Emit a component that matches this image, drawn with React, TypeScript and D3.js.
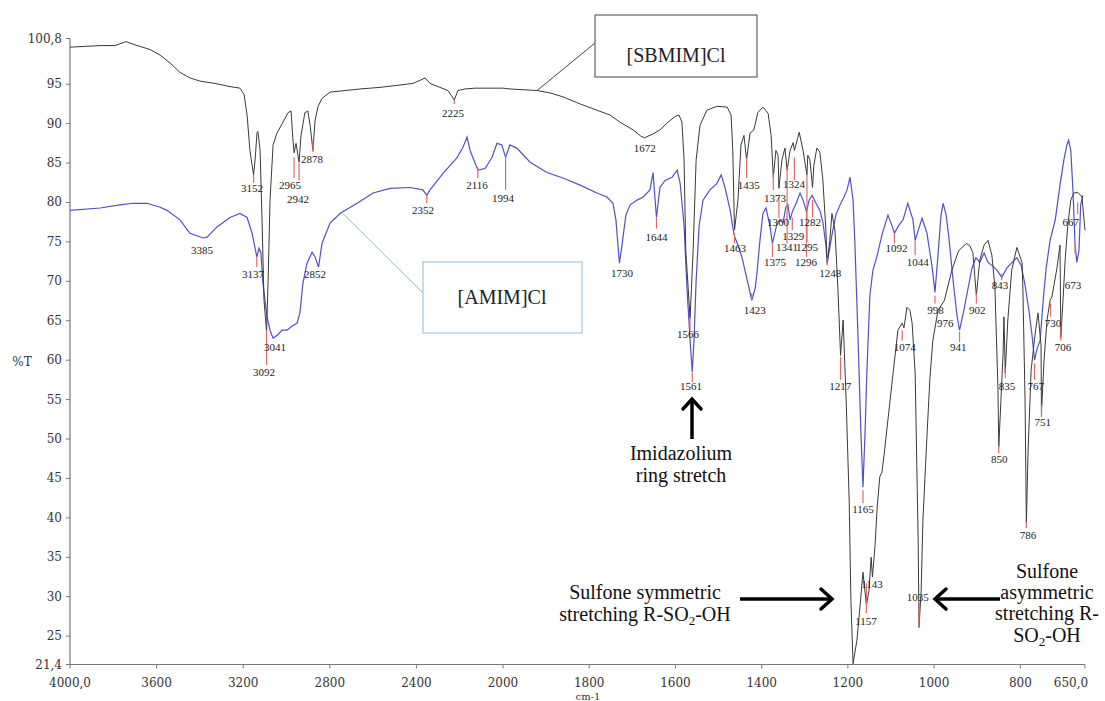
import React from 'react';
import * as d3 from 'd3';

const xTicks = [4000, 3600, 3200, 2800, 2400, 2000, 1800, 1600, 1400, 1200, 1000, 800, 650];
const xTickLabels = ['4000,0', '3600', '3200', '2800', '2400', '2000', '1800', '1600', '1400', '1200', '1000', '800', '650,0'];
const yTicks = [100.8, 95, 90, 85, 80, 75, 70, 65, 60, 55, 50, 45, 40, 35, 30, 25, 21.4];
const yTickLabels = ['100,8', '95', '90', '85', '80', '75', '70', '65', '60', '55', '50', '45', '40', '35', '30', '25', '21,4'];

// [SBMIM]Cl spectrum: [wavenumber, %T]
const sbmim: [number, number][] = [
  [4000, 99.7], [3931, 99.8], [3861, 99.9], [3792, 99.9], [3741, 100.4], [3700, 100.0], [3630, 99.4], [3584, 98.7],
  [3538, 97.7], [3492, 96.5], [3446, 95.8], [3400, 95.4], [3330, 95.1], [3261, 94.7], [3215, 94.5], [3196, 93.7],
  [3182, 91.1], [3169, 86.6], [3152, 83.5], [3145, 85.4], [3136, 88.9], [3132, 89.0], [3122, 86.6], [3113, 77.8],
  [3104, 67.6], [3092, 63.6], [3085, 70.1], [3076, 80.3], [3062, 87.3], [3044, 88.8], [3016, 90.2], [2993, 91.4],
  [2979, 91.6], [2970, 87.9], [2965, 86.3], [2956, 87.5], [2942, 85.1], [2933, 88.5], [2915, 91.4], [2901, 91.6],
  [2891, 89.8], [2878, 86.6], [2868, 90.4], [2854, 92.2], [2836, 93.2], [2799, 94.0], [2730, 94.2], [2661, 94.4],
  [2568, 94.6], [2476, 94.9], [2416, 95.1], [2383, 95.5], [2360, 95.8], [2337, 95.1], [2291, 94.6], [2254, 94.2],
  [2225, 93.0], [2208, 94.2], [2176, 94.4], [2129, 94.5], [2060, 94.5], [2000, 94.5],
  [1984, 94.4], [1921, 94.2], [1891, 93.9], [1861, 93.4], [1821, 92.5], [1782, 91.7], [1752, 91.1], [1729, 90.2],
  [1698, 89.2], [1680, 88.4], [1672, 88.2], [1652, 88.7], [1636, 89.2], [1617, 90.2], [1601, 90.9], [1592, 91.1],
  [1585, 90.2], [1580, 85.4], [1576, 73.9], [1566, 65.3], [1559, 73.9], [1552, 85.4], [1543, 89.8], [1527, 91.7],
  [1504, 92.2], [1480, 92.1], [1471, 91.1], [1467, 86.6], [1463, 76.5], [1455, 80.3], [1448, 87.3], [1441, 88.5],
  [1435, 85.4], [1427, 88.8], [1418, 89.2], [1409, 91.4], [1397, 92.1], [1385, 91.3], [1378, 88.5], [1373, 83.2],
  [1367, 86.6], [1362, 86.0], [1360, 81.8], [1353, 85.4], [1346, 86.9], [1341, 84.1], [1334, 86.6], [1327, 87.6],
  [1324, 86.6], [1313, 88.9], [1304, 86.6], [1295, 83.5], [1293, 86.0], [1288, 85.4], [1282, 81.9], [1279, 84.7],
  [1272, 86.9], [1265, 86.4], [1258, 82.8], [1251, 76.5], [1248, 72.3], [1242, 75.2], [1237, 78.6], [1230, 76.5],
  [1223, 68.9], [1217, 60.6], [1211, 65.1], [1204, 54.9], [1197, 42.2], [1193, 29.5], [1188, 21.5], [1179, 24.5],
  [1172, 28.7], [1165, 33.1], [1157, 28.9], [1151, 30.8], [1146, 35.0], [1143, 32.5], [1137, 36.5], [1132, 41.4],
  [1126, 45.2], [1121, 45.8], [1116, 48.0], [1109, 51.5], [1095, 58.4], [1084, 63.8], [1074, 64.7], [1070, 64.1],
  [1063, 66.7], [1056, 66.3], [1051, 64.7], [1044, 58.4], [1042, 52.4], [1037, 37.2], [1035, 26.1], [1030, 30.8],
  [1026, 39.7], [1017, 49.9], [1010, 57.5], [1003, 62.5], [991, 66.3], [976, 67.6], [959, 71.4], [943, 73.9],
  [925, 74.8], [917, 74.5], [910, 73.6], [902, 68.2], [894, 72.7], [884, 74.6], [875, 75.2], [866, 73.3],
  [859, 69.3], [852, 56.6], [850, 49.0], [845, 54.9], [840, 60.9], [838, 65.5], [835, 58.4], [829, 65.1],
  [820, 71.4], [808, 74.3], [796, 72.4], [794, 68.9], [789, 54.9], [786, 39.3], [782, 48.6], [775, 58.7],
  [766, 63.2], [759, 66.0], [752, 61.9], [751, 53.3], [745, 60.0], [738, 65.1], [731, 67.6], [727, 68.0],
  [722, 69.5], [715, 71.7], [708, 74.6], [706, 62.9], [701, 67.6], [696, 72.7], [690, 77.1], [683, 80.3],
  [676, 81.2], [667, 81.3], [657, 80.7], [650, 76.5],
];

// [AMIM]Cl spectrum: [wavenumber, %T]
const amim: [number, number][] = [
  [4000, 79.0], [3861, 79.3], [3769, 79.7], [3709, 79.9], [3644, 79.9], [3584, 79.4], [3552, 79.0], [3492, 77.8],
  [3446, 76.1], [3385, 75.5], [3367, 75.6], [3321, 76.9], [3261, 78.1], [3215, 78.6], [3182, 78.1], [3159, 76.1],
  [3137, 73.1], [3127, 74.2], [3118, 73.6], [3109, 69.8], [3090, 65.5], [3076, 63.8], [3062, 62.8], [3041, 63.2],
  [3021, 63.8], [2998, 63.8], [2975, 64.3], [2951, 64.7], [2938, 66.0], [2924, 69.8], [2905, 72.3], [2882, 73.7],
  [2868, 73.1], [2852, 71.8], [2836, 74.8], [2799, 77.4], [2753, 78.6], [2674, 79.9], [2600, 81.2], [2522, 81.8],
  [2430, 81.9], [2370, 81.6], [2352, 80.9], [2337, 81.6], [2277, 83.7], [2212, 85.7], [2185, 87.0], [2166, 88.3],
  [2152, 86.6], [2129, 85.0], [2116, 84.1], [2083, 84.3], [2051, 85.7], [2028, 87.5], [2005, 87.3], [1994, 85.7],
  [1984, 87.3], [1968, 86.9], [1937, 85.1], [1898, 83.8], [1861, 83.1], [1821, 82.2], [1782, 81.2], [1759, 80.7],
  [1745, 79.9], [1738, 77.8], [1730, 72.3], [1724, 74.6], [1715, 78.4], [1705, 79.7], [1689, 80.3], [1675, 80.7],
  [1659, 81.6], [1652, 83.8], [1644, 78.1], [1636, 81.9], [1624, 82.8], [1608, 83.2], [1596, 84.1], [1589, 82.4],
  [1580, 77.1], [1573, 68.9], [1566, 62.5], [1561, 58.5], [1557, 62.5], [1552, 70.1], [1545, 77.1], [1536, 80.3],
  [1520, 81.6], [1504, 82.4], [1494, 83.5], [1485, 81.9], [1473, 79.0], [1466, 76.5], [1463, 75.7], [1455, 74.6],
  [1446, 73.1], [1432, 69.8], [1423, 67.6], [1415, 69.1], [1411, 71.0], [1404, 75.2], [1397, 78.6], [1390, 79.3],
  [1381, 77.1], [1375, 74.8], [1364, 77.4], [1357, 77.8], [1350, 77.5], [1344, 79.4], [1339, 79.7], [1334, 77.8],
  [1329, 78.8], [1320, 79.9], [1311, 81.2], [1304, 80.3], [1296, 78.8], [1290, 80.3], [1283, 80.9], [1274, 79.9],
  [1265, 79.0], [1258, 77.5], [1251, 74.6], [1248, 72.3], [1237, 75.9], [1228, 78.4], [1218, 79.7], [1209, 80.7],
  [1202, 81.6], [1195, 83.2], [1188, 80.3], [1184, 75.2], [1177, 63.8], [1170, 51.1], [1165, 43.9], [1160, 51.1],
  [1156, 58.4], [1149, 68.2], [1142, 71.4], [1132, 73.3], [1121, 75.9], [1107, 78.4], [1098, 77.1], [1092, 76.1],
  [1082, 77.1], [1072, 77.8], [1061, 79.9], [1049, 77.8], [1044, 75.2], [1028, 78.0], [1017, 76.2], [1005, 72.0],
  [998, 68.6], [991, 73.3], [984, 78.4], [979, 79.9], [972, 78.4], [965, 75.2], [956, 70.1], [947, 65.7],
  [941, 63.8], [931, 66.3], [922, 68.9], [912, 71.7], [903, 73.0], [894, 72.4], [884, 73.6], [875, 72.4],
  [863, 71.9], [854, 71.4], [843, 70.5], [831, 71.7], [819, 72.4], [808, 73.0], [798, 72.0], [789, 69.5],
  [780, 66.3], [773, 63.2], [767, 60.0], [761, 61.5], [754, 62.5], [747, 67.6], [740, 71.7], [731, 75.2],
  [719, 77.8], [708, 82.2], [699, 85.4], [692, 87.3], [688, 87.9], [683, 86.6], [678, 81.6], [673, 74.6],
  [669, 72.4], [664, 73.9], [660, 79.7], [655, 80.9],
];

// peak labels: [text, wavenumber at label centre, %T at label centre]
const peakLabels: [string, number, number][] = [
  ['3152', 3159, 81.8], ['2965', 2984, 82.1], ['2942', 2947, 80.4], ['2878', 2882, 85.4], ['3092', 3104, 58.4],
  ['2225', 2231, 91.3], ['1672', 1671, 86.9], ['1566', 1571, 63.2], ['1435', 1430, 82.2], ['1463', 1462, 74.2],
  ['1373', 1369, 80.5], ['1324', 1325, 82.3], ['1360', 1362, 77.4], ['1329', 1327, 75.7], ['1282', 1288, 77.4],
  ['1341', 1341, 74.3], ['1295', 1295, 74.3], ['1375', 1369, 72.4], ['1296', 1297, 72.4], ['1248', 1241, 71.0],
  ['1217', 1218, 56.6], ['1165', 1165, 41.0], ['1143', 1144, 31.5], ['1157', 1158, 26.8], ['1035', 1038, 29.9],
  ['1074', 1068, 61.6], ['1092', 1087, 74.2], ['1044', 1038, 72.4], ['998', 997, 66.3], ['976', 974, 64.7],
  ['941', 944, 61.6], ['902', 900, 66.3], ['843', 847, 69.5], ['835', 831, 56.7], ['850', 849, 47.4],
  ['767', 764, 56.7], ['751', 748, 52.1], ['786', 782, 37.8], ['730', 724, 64.7], ['706', 701, 61.6],
  ['673', 678, 69.5], ['667', 683, 77.4], ['1561', 1564, 56.6], ['3385', 3390, 73.9], ['3137', 3155, 70.9],
  ['2852', 2868, 70.9], ['3041', 3053, 61.6], ['2352', 2370, 79.0], ['2116', 2120, 82.2], ['1994', 2000, 80.5],
  ['1730', 1724, 71.0], ['1644', 1644, 75.6], ['1423', 1416, 66.3],
];

// red peak markers: [wavenumber, %T from, %T to]
const peakMarks: [number, number, number][] = [
  [3152, 83.5, 82.5], [2965, 85.7, 83.1], [2942, 85.0, 82.8], [2878, 87.9, 86.4], [3092, 63.8, 59.4],
  [2225, 93.0, 92.5], [1566, 65.5, 63.8], [1435, 85.7, 83.1], [1463, 76.1, 74.8], [1373, 83.7, 81.6],
  [1324, 85.7, 82.8], [1360, 80.7, 78.0], [1329, 78.1, 76.5], [1282, 80.3, 78.1], [1341, 84.5, 74.8],
  [1295, 83.7, 75.0], [1375, 74.8, 73.1], [1296, 78.8, 73.1], [1248, 73.0, 72.0], [1217, 60.4, 57.5],
  [1165, 43.5, 41.9], [1157, 31.7, 27.9], [1035, 29.2, 26.1], [1074, 63.8, 62.5], [1092, 76.1, 74.8],
  [1044, 75.2, 73.3], [998, 68.2, 67.2], [941, 63.6, 62.3], [902, 68.5, 67.2], [843, 71.0, 70.1],
  [835, 59.1, 57.7], [850, 49.2, 48.2], [767, 59.6, 57.5], [751, 54.3, 52.8], [786, 39.5, 38.7],
  [730, 67.2, 65.5], [706, 65.1, 62.5], [673, 74.6, 73.5], [667, 80.0, 78.5], [1561, 58.4, 57.2],
  [3137, 73.1, 71.8], [2352, 81.2, 79.9], [2116, 84.5, 83.1], [1994, 86.0, 81.6], [1644, 78.1, 76.7],
  [1423, 68.5, 67.6],
];

const seriesNames = ['[SBMIM]Cl', '[AMIM]Cl'];
const imidazoliumText = ['Imidazolium', 'ring stretch'];
const sulfoneSymText = ['Sulfone symmetric', 'stretching R-SO'];
const sulfoneAsymText = ['Sulfone', 'asymmetric', 'stretching R-', 'SO'];

export default function App() {
  const x = d3.scaleLinear().domain([4000, 2000, 650]).range([70, 503, 1085]);
  const y = d3.scaleLinear().domain([21.4, 100.8]).range([664.5, 38.5]);
  const line = d3.line<[number, number]>().x((d) => x(d[0])).y((d) => y(d[1]));

  const serif = '"Liberation Serif", "Times New Roman", serif';
  const axisFont = '"DejaVu Serif", serif';
  const axisColor = '#777';
  const textColor = '#333';

  return (
    <svg width={1105} height={701} style={{ position: 'absolute', left: 0, top: 0, background: '#fff' }}>
      {/* axes */}
      <line x1={70} x2={70} y1={y(100.8)} y2={y(21.4)} stroke={axisColor} strokeWidth={1.2} />
      <line x1={70} x2={1085} y1={y(21.4)} y2={y(21.4)} stroke={axisColor} strokeWidth={1.2} />
      {yTicks.map((t, i) => (
        <g key={'yt' + i}>
          <line x1={66} x2={70} y1={y(t)} y2={y(t)} stroke={axisColor} />
          <text x={62} y={y(t) + 4} textAnchor="end" fontFamily={axisFont} fontSize={12} fill={textColor}>
            {yTickLabels[i]}
          </text>
        </g>
      ))}
      {xTicks.map((t, i) => (
        <g key={'xt' + i}>
          <line x1={x(t)} x2={x(t)} y1={y(21.4)} y2={y(21.4) + 4} stroke={axisColor} />
          <text x={i === xTicks.length - 1 ? x(t) - 14 : x(t)} y={687} textAnchor="middle" fontFamily={axisFont} fontSize={12} fill={textColor}>
            {xTickLabels[i]}
          </text>
        </g>
      ))}
      <text x={22} y={366} textAnchor="middle" fontFamily={axisFont} fontSize={12} fill={textColor}>%T</text>
      <text x={588} y={700} textAnchor="middle" fontFamily={axisFont} fontSize={10} fill={textColor}>cm-1</text>

      {/* spectra */}
      <path d={line(amim) || ''} fill="none" stroke="#5050c8" strokeWidth={1.2} />
      <path d={line(sbmim) || ''} fill="none" stroke="#3a3a3a" strokeWidth={1} />

      {/* peak markers */}
      {peakMarks.map((m, i) => (
        <line key={'pm' + i} x1={x(m[0])} x2={x(m[0])} y1={y(m[1])} y2={y(m[2])} stroke="#e06a6a" strokeWidth={1.2} />
      ))}
      {peakLabels.map((p, i) => (
        <text key={'pl' + i} x={x(p[1])} y={y(p[2]) + 3.5} textAnchor="middle" fontFamily={serif} fontSize={11} fill="#222">
          {p[0]}
        </text>
      ))}

      {/* legend boxes */}
      <line x1={595} y1={43} x2={x(1921)} y2={y(94.2)} stroke="#444" strokeWidth={1} />
      <rect x={595} y={15} width={162} height={62} fill="#fff" stroke="#444" strokeWidth={1} />
      <text x={676} y={62} textAnchor="middle" fontFamily={serif} fontSize={20} fill="#222">{seriesNames[0]}</text>

      <line x1={423} y1={293} x2={x(2739)} y2={y(78.6)} stroke="#8fb9d9" strokeWidth={1} />
      <rect x={423} y={262} width={159} height={71} fill="#fff" stroke="#8fb9d9" strokeWidth={1} />
      <text x={502} y={304} textAnchor="middle" fontFamily={serif} fontSize={20} fill="#222">{seriesNames[1]}</text>

      {/* imidazolium annotation */}
      <line x1={692} x2={692} y1={439} y2={400} stroke="#000" strokeWidth={3.5} />
      <polyline points="683,409 692,399 701,409" fill="none" stroke="#000" strokeWidth={3.5} strokeLinecap="round" strokeLinejoin="miter" />
      <text x={681} y={460} textAnchor="middle" fontFamily={serif} fontSize={20} fill="#111">{imidazoliumText[0]}</text>
      <text x={681} y={482} textAnchor="middle" fontFamily={serif} fontSize={20} fill="#111">{imidazoliumText[1]}</text>

      {/* sulfone symmetric */}
      <text x={645} y={599} textAnchor="middle" fontFamily={serif} fontSize={20} fill="#111">{sulfoneSymText[0]}</text>
      <text x={645} y={621} textAnchor="middle" fontFamily={serif} fontSize={20} fill="#111">
        {sulfoneSymText[1]}
        <tspan fontSize={13} dy={4}>2</tspan>
        <tspan dy={-4}>-OH</tspan>
      </text>
      <line x1={740} x2={831} y1={599} y2={599} stroke="#000" strokeWidth={3.5} />
      <polyline points="821,589 832,599 821,609" fill="none" stroke="#000" strokeWidth={3.5} strokeLinecap="round" />

      {/* sulfone asymmetric */}
      <line x1={936} x2={1000} y1={599} y2={599} stroke="#000" strokeWidth={3.5} />
      <polyline points="946,589 935,599 946,609" fill="none" stroke="#000" strokeWidth={3.5} strokeLinecap="round" />
      <text x={1047} y={578} textAnchor="middle" fontFamily={serif} fontSize={20} fill="#111">{sulfoneAsymText[0]}</text>
      <text x={1047} y={599} textAnchor="middle" fontFamily={serif} fontSize={20} fill="#111">{sulfoneAsymText[1]}</text>
      <text x={1047} y={620} textAnchor="middle" fontFamily={serif} fontSize={20} fill="#111">{sulfoneAsymText[2]}</text>
      <text x={1047} y={642} textAnchor="middle" fontFamily={serif} fontSize={20} fill="#111">
        {sulfoneAsymText[3]}
        <tspan fontSize={13} dy={4}>2</tspan>
        <tspan dy={-4}>-OH</tspan>
      </text>
    </svg>
  );
}
